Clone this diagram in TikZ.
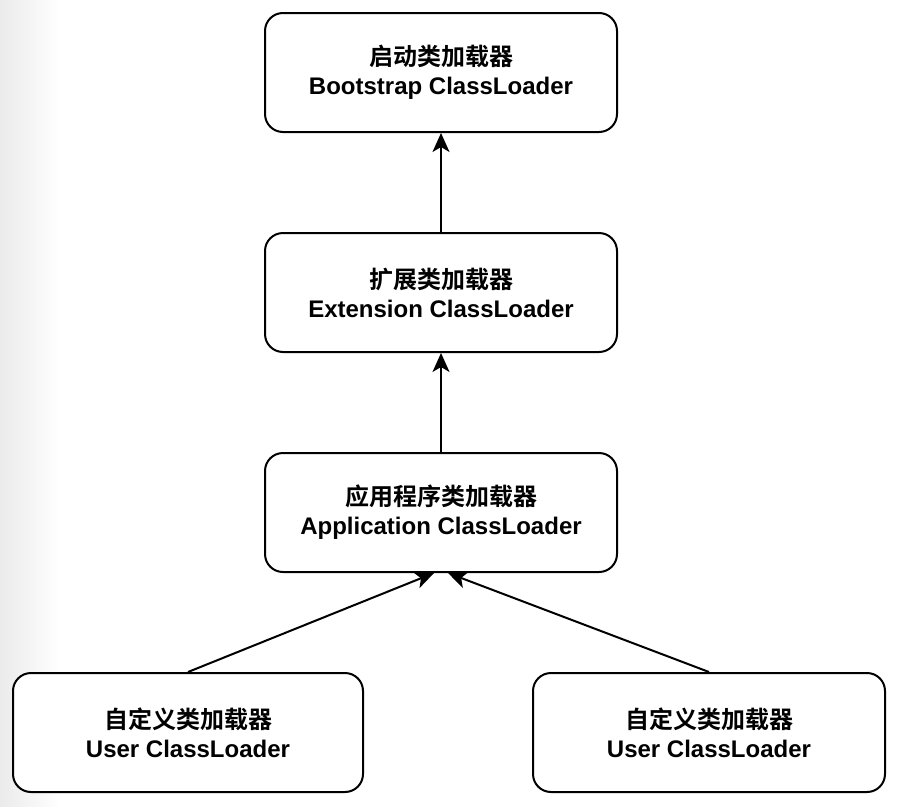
\documentclass[tikz,border=0pt]{standalone}
\usepackage{fontspec}
\setmainfont{Liberation Sans}
\newfontfamily\cjk{Noto Sans CJK SC}[BoldFont={Noto Sans CJK SC Bold}]
\usetikzlibrary{arrows.meta}
\begin{document}
\begin{tikzpicture}[x=1pt,y=-1pt,
  loader/.style={draw=black, line width=2pt, rounded corners=18pt, fill=white,
    minimum width=352pt, minimum height=119pt, inner sep=0pt, align=center,
    font=\fontsize{24}{29}\selectfont\bfseries},
  link/.style={draw=black, line width=2pt,
    -{Stealth[length=19pt, width=17pt, inset=5pt]}}]
  % page area with a soft grey band along the left edge
  \useasboundingbox (0,0) rectangle (912,806);
  \fill[white] (0,0) rectangle (912,806);
  \shade[left color=black!8, right color=white, shading angle=90] (0,0) rectangle (60,806);
  \fill[white] (60,0) rectangle (912,806);

  \node[loader] (boot) at (441,72.5) {{\cjk 启动类加载器}\\Bootstrap ClassLoader};
  \node[loader] (ext)  at (441,292.5) {{\cjk 扩展类加载器}\\Extension ClassLoader};
  \node[loader] (app)  at (441,512.5) {{\cjk 应用程序类加载器}\\Application ClassLoader};
  \node[loader, minimum width=350pt] (user1) at (188,732.5) {{\cjk 自定义类加载器}\\User ClassLoader};
  \node[loader] (user2) at (709,732.5) {{\cjk 自定义类加载器}\\User ClassLoader};

  \draw[link] (ext.north) -- (boot.south);
  \draw[link] (app.north) -- (ext.south);
  \draw[link] (user1.north) -- ([xshift=-7pt]app.south);
  \draw[link] (user2.north) -- ([xshift=7pt]app.south);
\end{tikzpicture}
\end{document}
